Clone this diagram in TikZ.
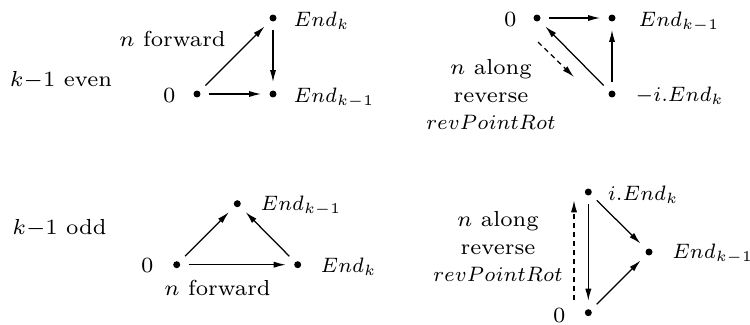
\documentclass[tikz,border=0pt]{standalone}
\usetikzlibrary{arrows.meta}
\newcommand\narrowmath[1]{\scalebox{0.91}[0.96]{$#1$}}
\begin{document}
\begin{tikzpicture}[x=0.322pt,y=-0.322pt,
  dot/.style={circle,fill,inner sep=0pt,minimum size=2.25pt,outer sep=2.7pt},
  lbl/.style={inner sep=0pt,font=\fontsize{7}{8.9}\selectfont},
  blk/.style={lbl,align=center},
  arr/.style={-{Latex[length=3.9pt,width=2pt]},line width=0.4pt},
  darr/.style={arr,dash pattern=on 1.6pt off 1.3pt}]
\useasboundingbox (0,0) rectangle (750,324);
% ---------- panel 1 : k-1 even, forward
\node[dot] (z1) at (197,94) {};
\node[dot] (a1) at (273,18) {};
\node[dot] (b1) at (273,94) {};
\node[lbl,anchor=base east] (z1l) at (176,102.5) {$0$};
\node[lbl,anchor=base west] (a1l) at (293,26.7) {\narrowmath{End_k}};
\node[lbl,anchor=base west] (b1l) at (293,102) {\narrowmath{End_{k-1}}};
\node[lbl,anchor=base] (f1) at (172.5,46.7) {$n$ forward};
\node[lbl,anchor=base] (even) at (61,86) {$k{-}1$ even};
\draw[arr] (z1) -- (a1);
\draw[arr] (a1) -- (b1);
\draw[arr] (z1) -- (b1);
% ---------- panel 2 : k-1 even, reverse
\node[dot] (z2) at (537,18) {};
\node[dot] (a2) at (612,18) {};
\node[dot] (b2) at (612,94) {};
\node[lbl,anchor=base east] (z2l) at (517,26.7) {$0$};
\node[lbl,anchor=base west] (a2l) at (638,26.7) {\narrowmath{End_{k-1}}};
\node[lbl,anchor=base west] (b2l) at (635,101.7) {\narrowmath{-i.End_k}};
\node[blk] (r2) at (491,94.5) {$n$ along\\reverse\\\narrowmath{revPointRot}};
\draw[arr] (z2) -- (a2);
\draw[arr] (b2) -- (a2);
\draw[arr] (b2) -- (z2);
\coordinate (d2s) at (538,42);
\coordinate (d2e) at (574,77);
\draw[darr] (d2s) -- (d2e);
% ---------- panel 3 : k-1 odd, forward
\node[dot] (e3) at (237.3,203.7) {};
\node[dot] (z3) at (176.7,264.7) {};
\node[dot] (k3) at (297.7,264.7) {};
\node[lbl,anchor=base east] (z3l) at (154,272.5) {$0$};
\node[lbl,anchor=base west] (e3l) at (260,210.3) {\narrowmath{End_{k-1}}};
\node[lbl,anchor=base west] (k3l) at (320,272) {\narrowmath{End_k}};
\node[lbl,anchor=base] (f3) at (217.5,295.3) {$n$ forward};
\node[lbl,anchor=base] (odd) at (59.5,234.7) {$k{-}1$ odd};
\draw[arr] (z3) -- (e3);
\draw[arr] (k3) -- (e3);
\draw[arr] (z3) -- (k3);
% ---------- panel 4 : k-1 odd, reverse
\node[dot] (i4) at (588.3,192) {};
\node[dot] (e4) at (649,252) {};
\node[dot] (z4) at (588.3,312.7) {};
\node[lbl,anchor=base west] (i4l) at (607.3,200.3) {\narrowmath{i.End_k}};
\node[lbl,anchor=base west] (e4l) at (671.7,258.7) {\narrowmath{End_{k-1}}};
\node[lbl,anchor=base east] (z4l) at (566,322) {$0$};
\node[blk] (r4) at (498,246.7) {$n$ along\\reverse\\\narrowmath{revPointRot}};
\draw[arr] (i4) -- (z4);
\draw[arr] (i4) -- (e4);
\draw[arr] (z4) -- (e4);
\coordinate (d4s) at (574,300.3);
\coordinate (d4e) at (574,200.3);
\draw[darr] (d4s) -- (d4e);
\end{tikzpicture}
\end{document}
